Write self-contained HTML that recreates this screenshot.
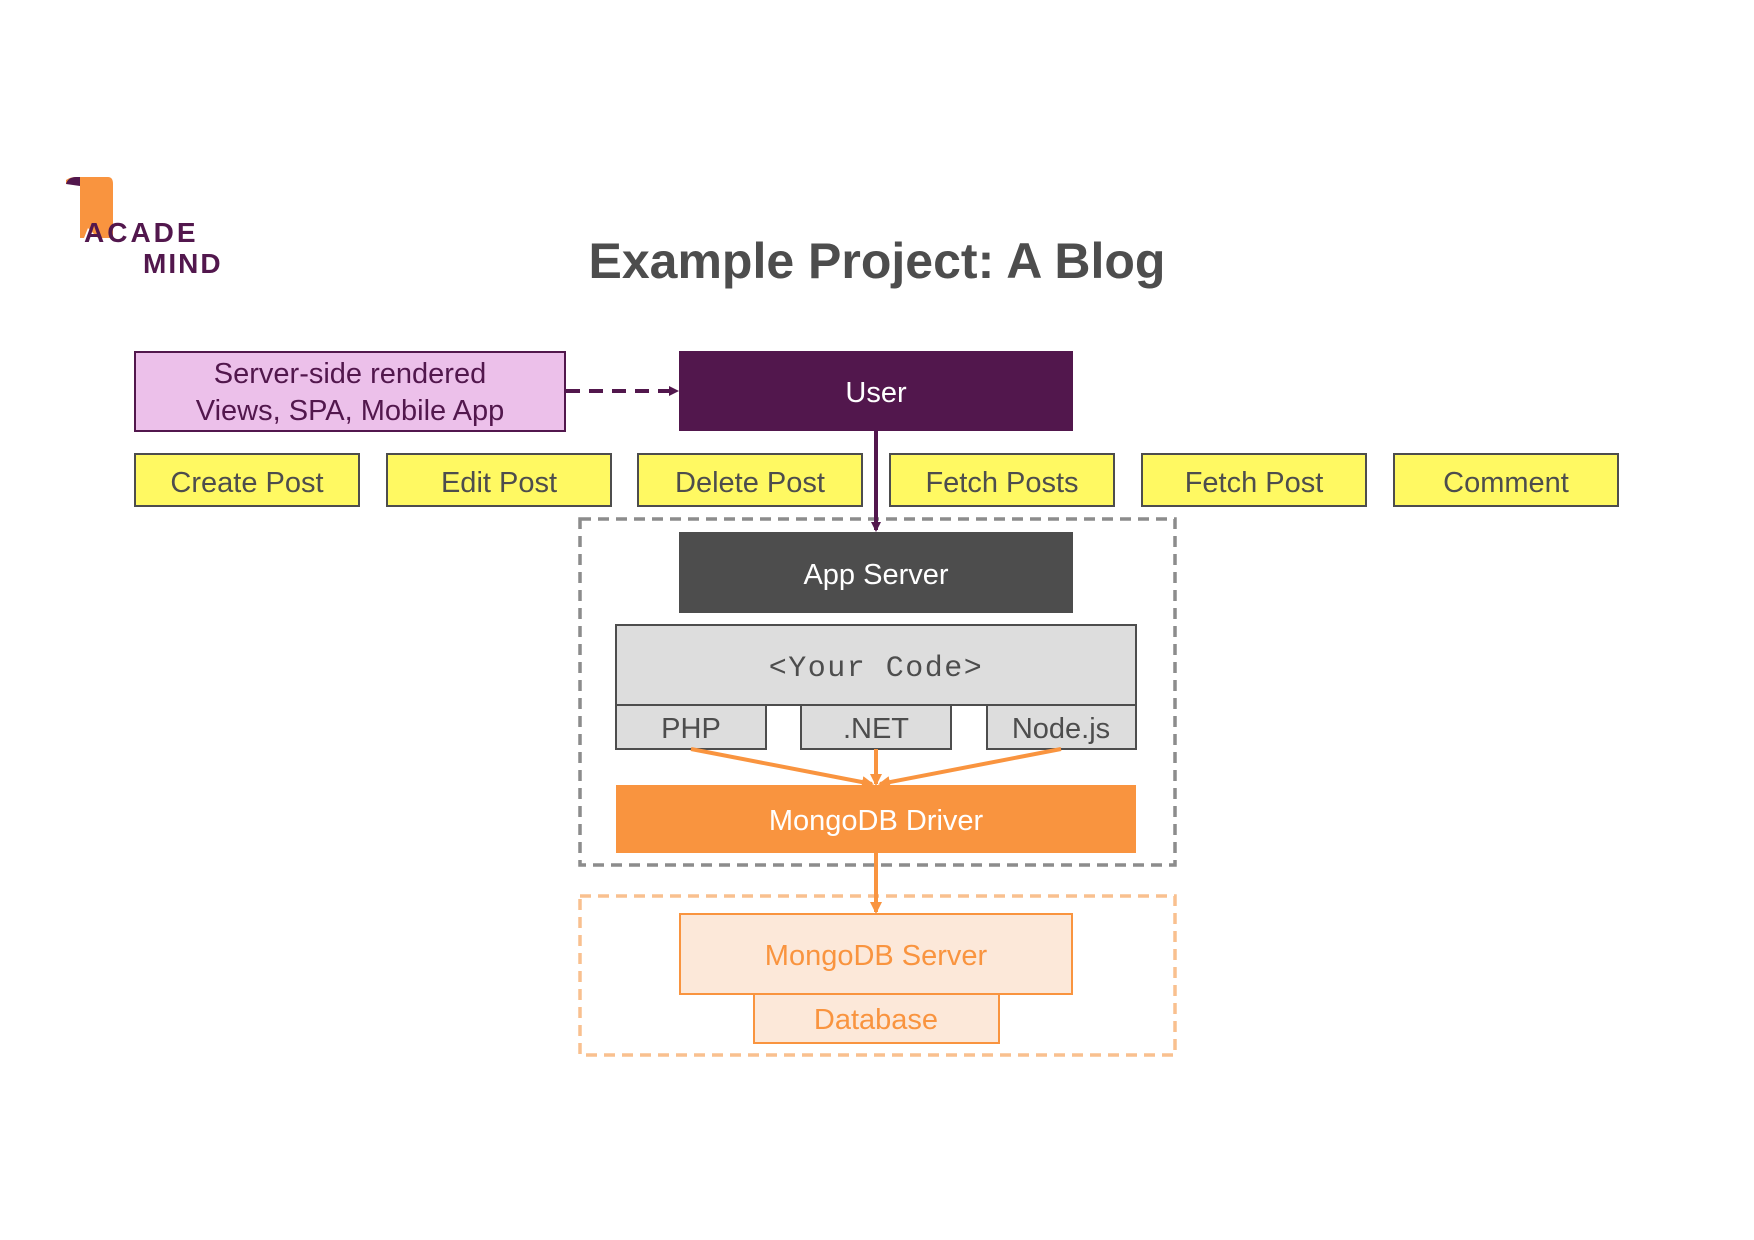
<!DOCTYPE html>
<html><head><meta charset="utf-8"><style>html,body{margin:0;padding:0;background:#fff}svg{display:block}</style></head><body>
<svg width="1754" height="1240" viewBox="0 0 1754 1240" xmlns="http://www.w3.org/2000/svg" font-family="Liberation Sans, sans-serif">
<defs>
<marker id="ap" markerWidth="10" markerHeight="10" refX="8" refY="5" orient="auto" markerUnits="userSpaceOnUse"><path d="M0,0 L10,5 L0,10 z" fill="#52174D"/></marker>
<marker id="ao" markerWidth="12" markerHeight="12" refX="10" refY="6" orient="auto" markerUnits="userSpaceOnUse"><path d="M0,0 L12,6 L0,12 z" fill="#F9943F"/></marker>
</defs>
<!-- logo -->
<path d="M66,180 Q70,177 76,177 L108,177 Q113,177 113,184 L113,238 L98,238 L88,228 L84,238 L80,238 L80,186 Q78,180 66,184 z" fill="#F9943F"/>
<path d="M66,184 Q68,177 76,177 L80,177 L80,186 Z" fill="#52174D"/>
<text x="84" y="242" font-size="28" font-weight="bold" fill="#52174D" letter-spacing="3">ACADE</text>
<text x="143" y="273" font-size="28" font-weight="bold" fill="#52174D" letter-spacing="2">MIND</text>
<!-- title -->
<text x="877" y="278" text-anchor="middle" font-size="50" font-weight="bold" fill="#4D4D4D">Example Project: A Blog</text>
<!-- pink box -->
<rect x="135" y="352" width="430" height="79" fill="#ECC0EA" stroke="#52174D" stroke-width="2"/>
<text x="350" y="383" text-anchor="middle" font-size="29" fill="#52174D">Server-side rendered</text>
<text x="350" y="420" text-anchor="middle" font-size="29" fill="#52174D">Views, SPA, Mobile App</text>
<line x1="566" y1="391" x2="677" y2="391" stroke="#52174D" stroke-width="4" stroke-dasharray="14,9" marker-end="url(#ap)"/>
<!-- user -->
<rect x="679" y="351" width="394" height="80" fill="#52174D"/>
<text x="876" y="402" text-anchor="middle" font-size="29" fill="#fff">User</text>
<!-- yellow -->
<g font-size="29" fill="#4D4D4D" text-anchor="middle">
<rect x="135" y="454" width="224" height="52" fill="#FFF962" stroke="#4D4D4D" stroke-width="2"/><text x="247" y="492">Create Post</text>
<rect x="387" y="454" width="224" height="52" fill="#FFF962" stroke="#4D4D4D" stroke-width="2"/><text x="499" y="492">Edit Post</text>
<rect x="638" y="454" width="224" height="52" fill="#FFF962" stroke="#4D4D4D" stroke-width="2"/><text x="750" y="492">Delete Post</text>
<rect x="890" y="454" width="224" height="52" fill="#FFF962" stroke="#4D4D4D" stroke-width="2"/><text x="1002" y="492">Fetch Posts</text>
<rect x="1142" y="454" width="224" height="52" fill="#FFF962" stroke="#4D4D4D" stroke-width="2"/><text x="1254" y="492">Fetch Post</text>
<rect x="1394" y="454" width="224" height="52" fill="#FFF962" stroke="#4D4D4D" stroke-width="2"/><text x="1506" y="492">Comment</text>
</g>
<!-- gray dashed box -->
<rect x="580" y="519" width="595" height="346" fill="none" stroke="#8C8C8C" stroke-width="3.5" stroke-dasharray="11,7"/>
<line x1="876" y1="431" x2="876" y2="530" stroke="#52174D" stroke-width="4" marker-end="url(#ap)"/>
<rect x="679" y="532" width="394" height="81" fill="#4D4D4D"/>
<text x="876" y="584" text-anchor="middle" font-size="29" fill="#fff">App Server</text>
<rect x="616" y="625" width="520" height="80" fill="#DDDDDD" stroke="#4D4D4D" stroke-width="2"/>
<text x="876" y="676" text-anchor="middle" font-size="30" letter-spacing="1.5" fill="#4D4D4D" font-family="Liberation Mono, monospace">&lt;Your Code&gt;</text>
<g font-size="29" fill="#4D4D4D" text-anchor="middle">
<rect x="616" y="705" width="150" height="44" fill="#DDDDDD" stroke="#4D4D4D" stroke-width="2"/><text x="691" y="738">PHP</text>
<rect x="801" y="705" width="150" height="44" fill="#DDDDDD" stroke="#4D4D4D" stroke-width="2"/><text x="876" y="738">.NET</text>
<rect x="987" y="705" width="149" height="44" fill="#DDDDDD" stroke="#4D4D4D" stroke-width="2"/><text x="1061" y="738">Node.js</text>
</g>
<g stroke="#F9943F" stroke-width="4">
<line x1="691" y1="749" x2="872" y2="784" marker-end="url(#ao)"/>
<line x1="876" y1="749" x2="876" y2="784" marker-end="url(#ao)"/>
<line x1="1061" y1="749" x2="880" y2="784" marker-end="url(#ao)"/>
</g>
<rect x="616" y="785" width="520" height="68" fill="#F9943F"/>
<text x="876" y="830" text-anchor="middle" font-size="29" fill="#fff">MongoDB Driver</text>
<!-- orange dashed box -->
<rect x="580" y="896" width="595" height="159" fill="none" stroke="#F9C08F" stroke-width="3.5" stroke-dasharray="11,7"/>
<line x1="876" y1="853" x2="876" y2="912" stroke="#F9943F" stroke-width="4" marker-end="url(#ao)"/>
<rect x="680" y="914" width="392" height="80" fill="#FCE8D9" stroke="#F9943F" stroke-width="2"/>
<text x="876" y="965" text-anchor="middle" font-size="29" fill="#F9943F">MongoDB Server</text>
<rect x="754" y="994" width="245" height="49" fill="#FCE8D9" stroke="#F9943F" stroke-width="2"/>
<text x="876" y="1029" text-anchor="middle" font-size="29" fill="#F9943F">Database</text>
</svg>
</body></html>
